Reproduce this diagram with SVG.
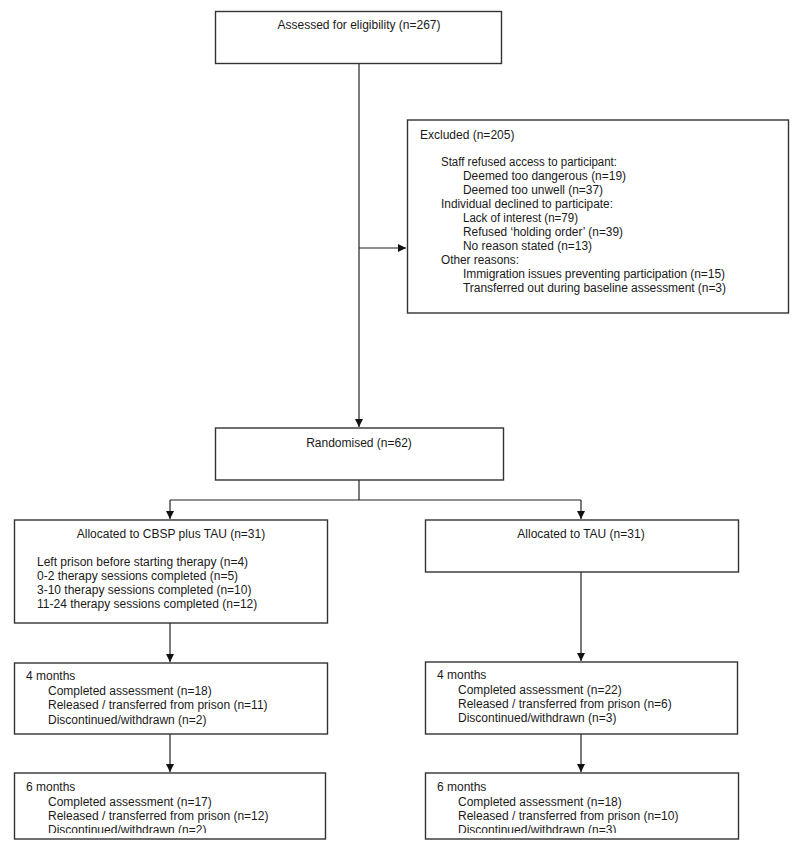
<svg xmlns="http://www.w3.org/2000/svg" width="800" height="851" viewBox="0 0 800 851">
<style>
  .box { fill: #fff; stroke: #333; stroke-width: 1.4; }
  .t { font-family: "Liberation Sans", Arial, sans-serif; font-size: 12px; fill: #1a1a1a; }
  .c { text-anchor: middle; }
  .ln { stroke: #222; stroke-width: 1.2; fill: none; }
</style>
<defs>
  <marker id="ah" viewBox="0 0 10 10" refX="10" refY="5" markerWidth="8" markerHeight="8" markerUnits="userSpaceOnUse" orient="auto">
    <path d="M0,0 L10,5 L0,10 z" fill="#111"/>
  </marker>
  <clipPath id="clipL"><rect x="14" y="773" width="312" height="60"/></clipPath>
  <clipPath id="clipR"><rect x="425" y="773" width="313" height="60"/></clipPath>
</defs>
<rect width="800" height="851" fill="#fff"/>

<g id="connectors">
  <line class="ln" x1="359" y1="63" x2="359" y2="427" marker-end="url(#ah)"/>
  <line class="ln" x1="359" y1="248" x2="406" y2="248" marker-end="url(#ah)"/>
  <line class="ln" x1="359" y1="480" x2="359" y2="500"/>
  <line class="ln" x1="170" y1="500" x2="581" y2="500"/>
  <line class="ln" x1="170" y1="500" x2="170" y2="519" marker-end="url(#ah)"/>
  <line class="ln" x1="581" y1="500" x2="581" y2="519" marker-end="url(#ah)"/>
  <line class="ln" x1="170" y1="623" x2="170" y2="662" marker-end="url(#ah)"/>
  <line class="ln" x1="581" y1="572" x2="581" y2="661" marker-end="url(#ah)"/>
  <line class="ln" x1="170" y1="734" x2="170" y2="772" marker-end="url(#ah)"/>
  <line class="ln" x1="581" y1="734" x2="581" y2="772" marker-end="url(#ah)"/>
</g>

<g id="assessed">
  <rect class="box" x="215.5" y="11.5" width="286" height="52"/>
  <text class="t c" x="359" y="29">Assessed for eligibility (n=267)</text>
</g>

<g id="excluded">
  <rect class="box" x="407.5" y="120" width="381" height="193"/>
  <text class="t" x="420" y="139">Excluded (n=205)</text>
  <text class="t" x="441" y="166" textLength="176" lengthAdjust="spacingAndGlyphs">Staff refused access to participant:</text>
  <text class="t" x="463" y="180" textLength="163" lengthAdjust="spacingAndGlyphs">Deemed too dangerous (n=19)</text>
  <text class="t" x="463" y="194" textLength="140" lengthAdjust="spacingAndGlyphs">Deemed too unwell (n=37)</text>
  <text class="t" x="441" y="208" textLength="172" lengthAdjust="spacingAndGlyphs">Individual declined to participate:</text>
  <text class="t" x="463" y="222" textLength="115" lengthAdjust="spacingAndGlyphs">Lack of interest (n=79)</text>
  <text class="t" x="463" y="236" textLength="160" lengthAdjust="spacingAndGlyphs">Refused ‘holding order’ (n=39)</text>
  <text class="t" x="463" y="250" textLength="129" lengthAdjust="spacingAndGlyphs">No reason stated (n=13)</text>
  <text class="t" x="441" y="264" textLength="78" lengthAdjust="spacingAndGlyphs">Other reasons:</text>
  <text class="t" x="463" y="278" textLength="262" lengthAdjust="spacing">Immigration issues preventing participation (n=15)</text>
  <text class="t" x="463" y="292" textLength="263" lengthAdjust="spacing">Transferred out during baseline assessment (n=3)</text>
</g>

<g id="randomised">
  <rect class="box" x="215.5" y="428" width="288" height="52"/>
  <text class="t c" x="359" y="447">Randomised (n=62)</text>
</g>

<g id="alloc-cbsp">
  <rect class="box" x="14.5" y="520" width="313" height="103"/>
  <text class="t c" x="171" y="538">Allocated to CBSP plus TAU (n=31)</text>
  <text class="t" x="37" y="566">Left prison before starting therapy (n=4)</text>
  <text class="t" x="37" y="580">0-2 therapy sessions completed (n=5)</text>
  <text class="t" x="37" y="594">3-10 therapy sessions completed (n=10)</text>
  <text class="t" x="37" y="608">11-24 therapy sessions completed (n=12)</text>
</g>

<g id="alloc-tau">
  <rect class="box" x="425.5" y="520" width="313" height="52"/>
  <text class="t c" x="581" y="538">Allocated to TAU (n=31)</text>
</g>

<g id="cbsp-4m">
  <rect class="box" x="14.5" y="663" width="313" height="71"/>
  <text class="t" x="26" y="680">4 months</text>
  <text class="t" x="48" y="695">Completed assessment (n=18)</text>
  <text class="t" x="48" y="709">Released / transferred from prison (n=11)</text>
  <text class="t" x="48" y="724">Discontinued/withdrawn (n=2)</text>
</g>

<g id="tau-4m">
  <rect class="box" x="425.5" y="662" width="312" height="72"/>
  <text class="t" x="437" y="679">4 months</text>
  <text class="t" x="458" y="694">Completed assessment (n=22)</text>
  <text class="t" x="458" y="708">Released / transferred from prison (n=6)</text>
  <text class="t" x="458" y="722">Discontinued/withdrawn (n=3)</text>
</g>

<g id="cbsp-6m">
  <rect class="box" x="14.5" y="773" width="311" height="66"/>
  <g clip-path="url(#clipL)">
    <text class="t" x="26" y="791">6 months</text>
    <text class="t" x="48" y="806">Completed assessment (n=17)</text>
    <text class="t" x="48" y="820">Released / transferred from prison (n=12)</text>
    <text class="t" x="48" y="834">Discontinued/withdrawn (n=2)</text>
  </g>
</g>

<g id="tau-6m">
  <rect class="box" x="425.5" y="773" width="313" height="66"/>
  <g clip-path="url(#clipR)">
    <text class="t" x="437" y="791">6 months</text>
    <text class="t" x="458" y="806">Completed assessment (n=18)</text>
    <text class="t" x="458" y="820">Released / transferred from prison (n=10)</text>
    <text class="t" x="458" y="834">Discontinued/withdrawn (n=3)</text>
  </g>
</g>
</svg>
